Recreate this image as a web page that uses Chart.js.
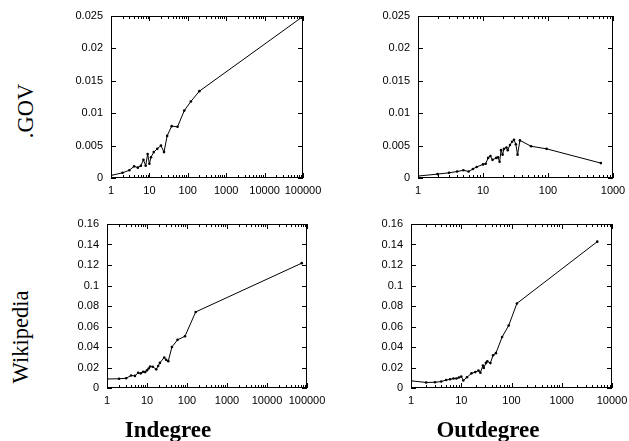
<!DOCTYPE html>
<html>
<head>
<meta charset="utf-8">
<script src="https://cdn.jsdelivr.net/npm/chart.js@4.4.0/dist/chart.umd.min.js"></script>
<style>
  html, body { margin: 0; padding: 0; background: #fff; }
  #page { position: relative; width: 629px; height: 441px; overflow: hidden; }
  canvas { position: absolute; }
  .label { position: absolute; font-family: "Liberation Serif", "Times New Roman", serif; color: #000; line-height: 1; white-space: nowrap; }
  .row { font-size: 22.5px; transform: translate(-50%, -50%) rotate(-90deg); }
  .col { font-size: 23px; font-weight: bold; transform: translateX(-50%); }
</style>
</head>
<body>
<div id="page">
  <canvas id="govIn" width="267" height="200" style="left:60px;top:0px"></canvas>
  <canvas id="govOut" width="261" height="200" style="left:368px;top:0px"></canvas>
  <canvas id="wikiIn" width="267" height="241" style="left:60px;top:200px"></canvas>
  <canvas id="wikiOut" width="261" height="241" style="left:368px;top:200px"></canvas>
  <div class="label row" style="left:26px;top:111px">.GOV</div>
  <div class="label row" style="left:21px;top:337px">Wikipedia</div>
  <div class="label col" style="left:168px;top:418px">Indegree</div>
  <div class="label col" style="left:488px;top:418px">Outdegree</div>
</div>
<script>
// values
const govInX = [1, 2, 3, 4, 5, 6, 7, 8, 9, 10, 11, 13, 16, 20, 24, 29, 38, 54, 81, 120, 200, 93000];
const govInY = [0.0004, 0.0008, 0.0012, 0.0018, 0.0016, 0.0019, 0.0028, 0.0019, 0.0037, 0.0022, 0.0032, 0.004, 0.0045, 0.005, 0.004, 0.0065, 0.008, 0.0079, 0.0104, 0.0118, 0.0134, 0.0248];

const govOutX = [1, 2, 3, 4, 5, 6, 7, 8, 10, 11, 12, 13, 14, 16, 17, 18, 19, 20, 21, 23, 24, 26, 28, 30, 32, 34, 37, 55, 95, 650];
const govOutY = [0.0003, 0.0006, 0.0008, 0.001, 0.0012, 0.001, 0.0014, 0.0017, 0.0021, 0.0022, 0.0031, 0.0034, 0.0028, 0.0031, 0.0032, 0.0025, 0.0043, 0.0036, 0.0045, 0.0047, 0.0043, 0.0051, 0.0056, 0.0059, 0.0052, 0.0036, 0.0058, 0.0049, 0.0045, 0.0023];

const wikiInX = [1, 2, 3, 4, 5, 6, 7, 8, 9, 10, 11, 12, 14, 17, 19, 21, 27, 30, 34, 42, 58, 89, 165, 74000];
const wikiInY = [0.0088, 0.009, 0.0095, 0.0122, 0.0118, 0.0148, 0.0143, 0.0158, 0.0155, 0.0172, 0.019, 0.021, 0.0208, 0.0182, 0.0215, 0.0245, 0.0298, 0.0275, 0.0262, 0.040, 0.047, 0.0505, 0.0742, 0.1218];

const wikiOutX = [1, 2, 3, 4, 5, 6, 7, 8, 9, 10, 11, 13, 16, 19, 22, 24, 27, 28, 31, 33, 38, 43, 49, 65, 88, 128, 5100];
const wikiOutY = [0.007, 0.0054, 0.0056, 0.0063, 0.0078, 0.0085, 0.0092, 0.0093, 0.0102, 0.0112, 0.0073, 0.0105, 0.0143, 0.0155, 0.017, 0.015, 0.022, 0.0195, 0.0245, 0.026, 0.0243, 0.032, 0.034, 0.0497, 0.061, 0.0825, 0.1428];

// tick labels
const xTicksIn = [1, 10, 100, 1000, 10000, 100000];
const xTicksGovOut = [1, 10, 100, 1000];
const xTicksWikiOut = [1, 10, 100, 1000, 10000];
const yTicksGov = [0, 0.005, 0.01, 0.015, 0.02, 0.025];
const yTicksWiki = [0, 0.02, 0.04, 0.06, 0.08, 0.1, 0.12, 0.14, 0.16];

const tickFont = { family: '"Liberation Sans", Arial, sans-serif', size: 11 };

// gnuplot style frame with inward ticks (mirrored), minor ticks on the log axis
const frameTicks = {
    id: 'frameTicks',
    afterDraw(chart) {
        const { ctx, chartArea: a, scales: { x, y } } = chart;
        ctx.save();
        ctx.strokeStyle = '#000';
        ctx.lineWidth = 1;
        ctx.strokeRect(a.left + 0.5, a.top + 0.5, a.right - a.left - 1, a.bottom - a.top - 1);
        ctx.beginPath();
        const xTick = (v, len) => {
            const px = Math.round(x.getPixelForValue(v)) + 0.5;
            ctx.moveTo(px, a.bottom); ctx.lineTo(px, a.bottom - len);
            ctx.moveTo(px, a.top); ctx.lineTo(px, a.top + len);
        };
        for (let d = x.min; d < x.max; d *= 10) {
            xTick(d, 5);
            for (let m = 2; m < 10; m++) {
                if (m * d < x.max) xTick(m * d, 3);
            }
        }
        xTick(x.max, 5);
        y.ticks.forEach(t => {
            const py = Math.round(y.getPixelForValue(t.value)) + 0.5;
            ctx.moveTo(a.left, py); ctx.lineTo(a.left + 5, py);
            ctx.moveTo(a.right, py); ctx.lineTo(a.right - 5, py);
        });
        ctx.stroke();
        ctx.restore();
    }
};

function makePanel(id, xs, ys, xTicks, yTicks, yWidth, padding) {
    const points = xs.map((x, i) => ({ x: x, y: ys[i] }));
    return new Chart(document.getElementById(id), {
        type: 'line',
        data: {
            datasets: [{
                data: points,
                borderColor: '#000',
                borderWidth: 1,
                pointRadius: 1.3,
                pointBorderWidth: 0,
                pointBackgroundColor: '#000',
                tension: 0
            }]
        },
        options: {
            responsive: false,
            animation: false,
            layout: { padding: padding },
            plugins: { legend: { display: false }, tooltip: { enabled: false } },
            scales: {
                x: {
                    type: 'logarithmic',
                    min: xTicks[0],
                    max: xTicks[xTicks.length - 1],
                    afterBuildTicks: s => { s.ticks = xTicks.map(v => ({ value: v })); },
                    afterFit: s => { s.height = 20; s.paddingLeft = 0; s.paddingRight = 0; },
                    grid: { display: false, drawTicks: false },
                    border: { display: false },
                    ticks: { font: tickFont, color: '#000', padding: 6, autoSkip: false, maxRotation: 0, minRotation: 0, callback: v => String(v) }
                },
                y: {
                    type: 'linear',
                    min: yTicks[0],
                    max: yTicks[yTicks.length - 1],
                    afterBuildTicks: s => { s.ticks = yTicks.map(v => ({ value: v })); },
                    afterFit: s => { s.width = yWidth; s.paddingTop = 0; s.paddingBottom = 0; },
                    grid: { display: false, drawTicks: false },
                    border: { display: false },
                    ticks: { font: tickFont, color: '#000', padding: 8, callback: v => String(v) }
                }
            }
        },
        plugins: [frameTicks]
    });
}

makePanel('govIn', govInX, govInY, xTicksIn, yTicksGov, 45, { left: 6, right: 24, top: 16, bottom: 2 });
makePanel('govOut', govOutX, govOutY, xTicksGovOut, yTicksGov, 45, { left: 5, right: 16, top: 16, bottom: 2 });
makePanel('wikiIn', wikiInX, wikiInY, xTicksIn, yTicksWiki, 45, { left: 2, right: 20, top: 24, bottom: 33 });
makePanel('wikiOut', wikiOutX, wikiOutY, xTicksWikiOut, yTicksWiki, 43, { left: 0, right: 17, top: 24, bottom: 33 });
</script>
</body>
</html>
